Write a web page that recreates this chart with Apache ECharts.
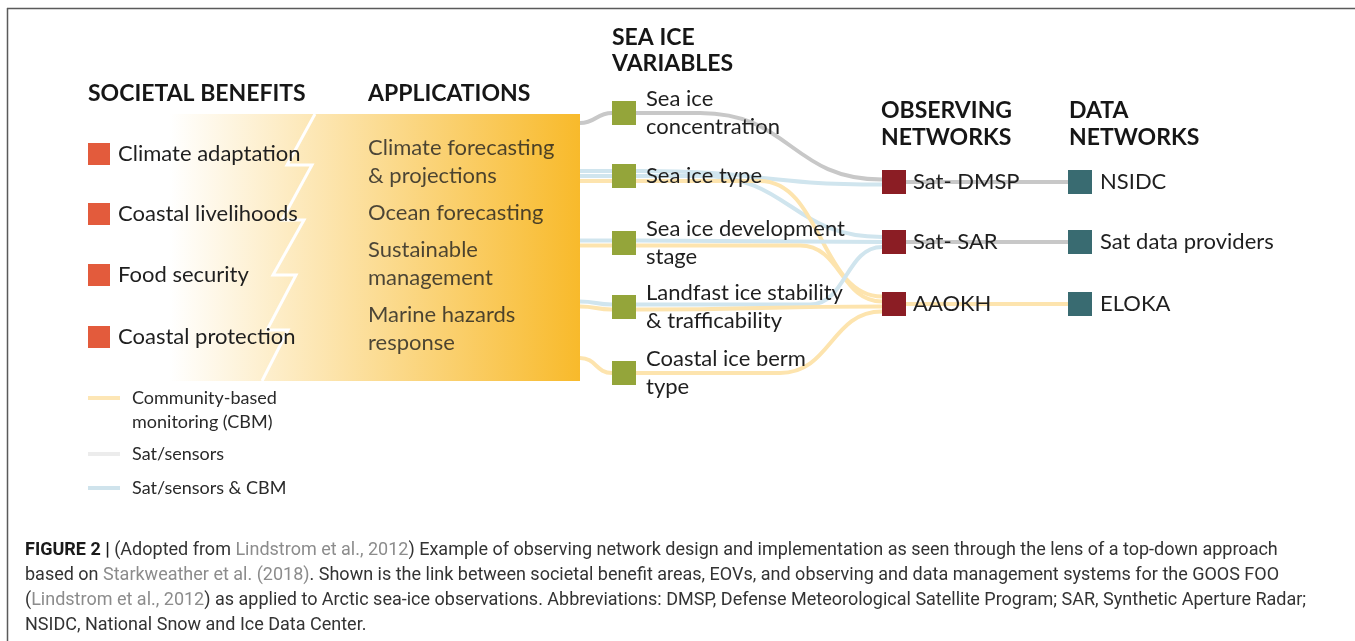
<!DOCTYPE html>
<html>
<head>
<meta charset="utf-8">
<script src="https://cdn.jsdelivr.net/npm/echarts@6/dist/echarts.min.js"></script>
<style>
  html, body { margin: 0; padding: 0; background: #fff; }
  #main { width: 1355px; height: 641px; }
</style>
</head>
<body>
<div id="main"></div>
<script>
// ---- data ----
var benefits = ['Climate adaptation', 'Coastal livelihoods', 'Food security', 'Coastal protection'];
var applications = ['Climate forecasting\n& projections', 'Ocean forecasting', 'Sustainable\nmanagement', 'Marine hazards\nresponse'];
var variables = ['Sea ice\nconcentration', 'Sea ice type', 'Sea ice development\nstage', 'Landfast ice stability\n& trafficability', 'Coastal ice berm\ntype'];
var observing = ['Sat- DMSP', 'Sat- SAR', 'AAOKH'];
var dataNetworks = ['NSIDC', 'Sat data providers', 'ELOKA'];
var linkTypes = ['Community-based\nmonitoring (CBM)', 'Sat/sensors', 'Sat/sensors & CBM'];
// [variable, observing network, link type]
var variableLinks = [
  [0, 0, 1],
  [1, 0, 2],
  [1, 1, 2],
  [1, 2, 0],
  [2, 1, 2],
  [2, 2, 0],
  [3, 1, 2],
  [3, 2, 0],
  [4, 2, 0]
];
// [observing network, data network, link type]
var dataLinks = [
  [0, 0, 1],
  [1, 1, 1],
  [2, 2, 0]
];

// ---- layout ----
var W = 1355, H = 641;
var font = 'Lato, "Noto Sans", sans-serif';
var capFont = 'Roboto, "Liberation Sans", sans-serif';
var benefitX = 99, benefitY = [154, 214, 275, 337];
var appX = 368, appY = [162, 213, 264, 329];
var panel = { left: 170, right: 580, top: 114, bottom: 381 };
var panelY = [123, 176, 243, 304, 358];
var varX = 624, varY = [113, 176, 243, 307, 373];
var obsX = 894, netX = 1080, netY = [182, 242, 304];
var half = 12, LANE = 5;
var bendX = [700, 640, 700, 760, 640, 800, 810, 640, 780];
var linkColors = ['#FDE4AE', '#C8C8C8', '#D0E5EE'];
var legendColors = ['#FDE6B5', '#ECECEC', '#CFE3EC'];
var legendY = [398, 454, 488];

// lane offsets for stacked links
function laneOffsets(list, idx) {
  var count = {}, seen = {};
  list.forEach(function (l) { count[l[idx]] = (count[l[idx]] || 0) + 1; });
  return list.map(function (l) {
    var k = l[idx];
    seen[k] = (seen[k] || 0) + 1;
    return (seen[k] - 1 - (count[k] - 1) / 2) * LANE;
  });
}
var srcOff = laneOffsets(variableLinks, 0);
var dstOff = laneOffsets(variableLinks, 1);

// link rows: [x1, y1, bendStartX, x2, y2, type]
var linkRows = [];
variableLinks.forEach(function (l, i) {
  var ys = varY[l[0]] + srcOff[i];
  linkRows.push([panel.right, panelY[l[0]] + srcOff[i], panel.right, varX - half, ys, l[2]]);
  linkRows.push([varX + half, ys, bendX[i], obsX - half, netY[l[1]] + dstOff[i], l[2]]);
});
dataLinks.forEach(function (l) {
  linkRows.push([obsX + half, netY[l[0]], obsX + half, netX - half, netY[l[1]], l[2]]);
});

function renderLink(params, api) {
  var p1 = api.coord([api.value(0), api.value(1)]);
  var pb = api.coord([api.value(2), api.value(1)]);
  var p2 = api.coord([api.value(3), api.value(4)]);
  var mx = (pb[0] + p2[0]) / 2;
  var style = { stroke: linkColors[api.value(5)], lineWidth: 4, fill: null };
  return {
    type: 'group',
    children: [
      { type: 'line', shape: { x1: p1[0], y1: p1[1], x2: pb[0], y2: pb[1] }, style: style },
      { type: 'bezierCurve', shape: { x1: pb[0], y1: pb[1], x2: p2[0], y2: p2[1], cpx1: mx, cpy1: pb[1], cpx2: mx, cpy2: p2[1] }, style: style }
    ]
  };
}

function nodeSeries(names, x, ys, size, color, dist) {
  return {
    type: 'scatter',
    symbol: 'rect',
    symbolSize: size,
    z: 5,
    itemStyle: { color: color, opacity: 1 },
    label: {
      show: true, position: 'right', distance: dist, formatter: '{b}',
      fontFamily: font, fontSize: 22, lineHeight: 28, color: '#1f1f1f'
    },
    emphasis: { disabled: true },
    data: names.map(function (n, i) { return { name: n, value: [x, ys[i]] }; })
  };
}

var headers = [
  ['SOCIETAL BENEFITS', 88, 94], ['APPLICATIONS', 368, 94],
  ['SEA ICE', 612, 38], ['VARIABLES', 612, 64],
  ['OBSERVING', 881, 111], ['NETWORKS', 881, 138],
  ['DATA', 1069, 111], ['NETWORKS', 1069, 138]
];

var captionLines = [
  '{b|FIGURE 2 |} (Adopted from {l|Lindstrom et al., 2012}) Example of observing network design and implementation as seen through the lens of a top-down approach',
  'based on {l|Starkweather et al. (2018)}. Shown is the link between societal benefit areas, EOVs, and observing and data management systems for the GOOS FOO',
  '({l|Lindstrom et al., 2012}) as applied to Arctic sea-ice observations. Abbreviations: DMSP, Defense Meteorological Satellite Program; SAR, Synthetic Aperture Radar;',
  'NSIDC, National Snow and Ice Data Center.'
];

var graphics = [
  { type: 'line', shape: { x1: 7, y1: 8.5, x2: W, y2: 8.5 }, style: { stroke: '#5a5a5a', lineWidth: 1.5 } },
  { type: 'line', shape: { x1: 7.5, y1: 8, x2: 7.5, y2: H }, style: { stroke: '#5a5a5a', lineWidth: 1.5 } },
  {
    type: 'rect', z: -1,
    shape: { x: panel.left, y: panel.top, width: panel.right - panel.left, height: panel.bottom - panel.top },
    style: { fill: new echarts.graphic.LinearGradient(0, 0, 1, 0, [
      { offset: 0, color: '#FFFFFF' }, { offset: 1, color: '#F8BA2B' }
    ]) }
  },
  {
    type: 'polyline', z: 0,
    shape: { points: [[315, 114], [287, 165], [312, 165], [282, 220], [304, 220], [273, 275], [296, 275], [267, 330], [288, 330], [262, 381]] },
    style: { stroke: '#fff', lineWidth: 3, fill: null }
  }
];
headers.forEach(function (h) {
  graphics.push({ type: 'text', x: h[1], y: h[2], style: { text: h[0], fontFamily: font, fontSize: 23, fontWeight: 'bold', fill: '#161616', verticalAlign: 'middle' } });
});
linkTypes.forEach(function (t, i) {
  graphics.push({ type: 'line', shape: { x1: 88, y1: legendY[i], x2: 120, y2: legendY[i] }, style: { stroke: legendColors[i], lineWidth: 4 } });
  graphics.push({ type: 'text', x: 132, y: legendY[i] - 12, style: { text: t, fontFamily: font, fontSize: 18, lineHeight: 24, fill: '#2a2a2a', verticalAlign: 'top' } });
});
graphics.push({
  type: 'text', x: 25, y: 538,
  style: {
    text: captionLines.join('\n'),
    fontFamily: capFont, fontSize: 18, lineHeight: 25, fill: '#333',
    verticalAlign: 'top',
    rich: {
      b: { fontFamily: capFont, fontSize: 18, lineHeight: 25, fontWeight: 'bold', fill: '#1a1a1a' },
      l: { fontFamily: capFont, fontSize: 18, lineHeight: 25, fill: '#8c8c8c' }
    }
  }
});

var chart = echarts.init(document.getElementById('main'));
chart.setOption({
  animation: false,
  grid: { left: 0, right: 0, top: 0, bottom: 0 },
  xAxis: { type: 'value', min: 0, max: W, show: false },
  yAxis: { type: 'value', min: 0, max: H, inverse: true, show: false },
  graphic: graphics,
  series: [
    {
      type: 'custom', z: 2, silent: true,
      renderItem: renderLink,
      encode: { x: [0, 2, 3], y: [1, 4] },
      data: linkRows
    },
    nodeSeries(benefits, benefitX, benefitY, 22, '#E35B3C', 8),
    {
      type: 'scatter', symbolSize: 0, z: 5,
      label: { show: true, position: 'right', distance: 0, formatter: '{b}', fontFamily: font, fontSize: 22, lineHeight: 28, color: '#1f1f1f' },
      data: applications.map(function (n, i) { return { name: n, value: [appX, appY[i]] }; })
    },
    nodeSeries(variables, varX, varY, 24, '#94A53A', 10),
    nodeSeries(observing, obsX, netY, 24, '#8B1D24', 7),
    nodeSeries(dataNetworks, netX, netY, 24, '#396B71', 8)
  ]
});
</script>
</body>
</html>
